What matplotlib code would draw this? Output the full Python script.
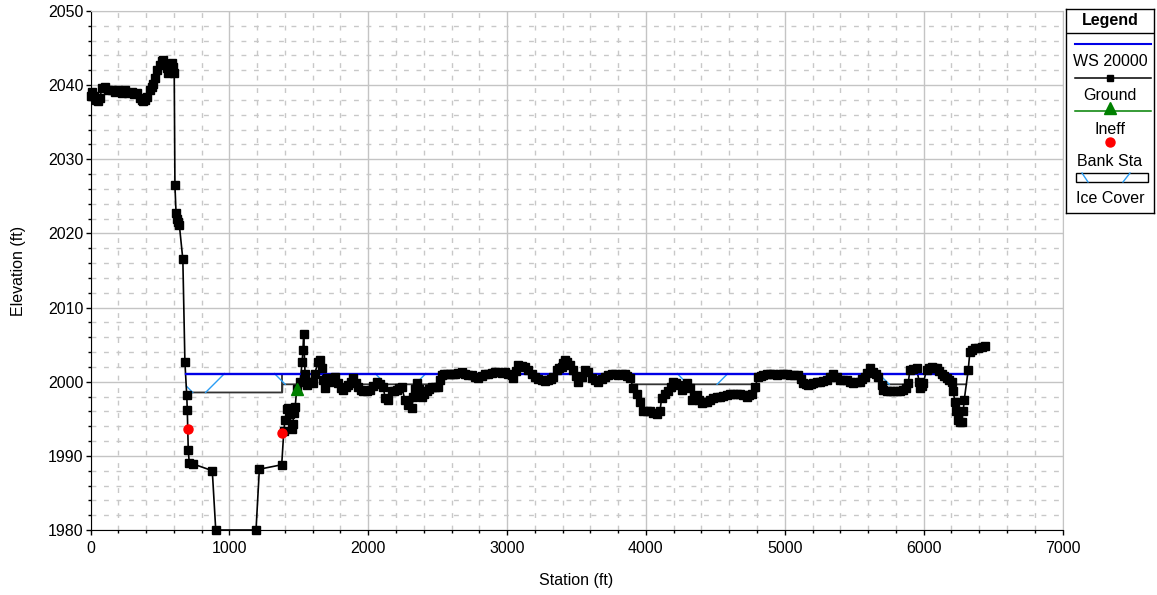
import numpy as np
import matplotlib
matplotlib.use("Agg")
import matplotlib.pyplot as plt
from matplotlib.ticker import MultipleLocator
from matplotlib.patches import Rectangle

plt.rcParams["font.family"] = ["Liberation Sans", "DejaVu Sans"]

# ground profile: station (ft) and elevation (ft)
ground_sta = [
    0, 9, 25, 40, 56, 68, 81, 104, 128, 153, 176, 200, 224, 248, 272, 297, 315, 333,
    356, 368, 380, 393, 405, 428, 440, 452, 465, 477, 500, 512, 524, 537, 549, 560,
    575, 589, 596, 603, 608, 616, 624, 632, 640, 665, 680, 693, 697, 704, 711, 740,
    877, 902, 1192, 1216, 1377, 1392, 1400, 1413, 1424, 1436, 1449, 1456, 1465, 1474,
    1485, 1509, 1524, 1530, 1535, 1545, 1557, 1570, 1581, 1600, 1615, 1640, 1653, 1665,
    1677, 1689, 1701, 1719, 1737, 1761, 1785, 1803, 1821, 1839, 1857, 1875, 1893, 1911,
    1929, 1947, 1965, 1989, 2013, 2037, 2061, 2085, 2109, 2121, 2145, 2169, 2187, 2205,
    2223, 2241, 2265, 2289, 2313, 2325, 2337, 2349, 2367, 2385, 2403, 2421, 2439, 2457,
    2481, 2505, 2517, 2529, 2547, 2565, 2589, 2613, 2625, 2649, 2673, 2697, 2721, 2745,
    2769, 2793, 2817, 2841, 2865, 2889, 2913, 2937, 2961, 2985, 3009, 3033, 3045, 3063,
    3081, 3105, 3129, 3153, 3177, 3201, 3225, 3249, 3273, 3297, 3315, 3333, 3357, 3375,
    3393, 3405, 3417, 3435, 3453, 3477, 3495, 3513, 3537, 3561, 3585, 3609, 3633, 3657,
    3681, 3705, 3729, 3753, 3777, 3801, 3825, 3849, 3867, 3885, 3909, 3933, 3957, 3981,
    4005, 4029, 4053, 4077, 4101, 4113, 4137, 4161, 4179, 4197, 4215, 4233, 4257, 4275,
    4293, 4317, 4329, 4347, 4365, 4383, 4401, 4419, 4437, 4461, 4485, 4509, 4533, 4557,
    4581, 4605, 4629, 4653, 4677, 4701, 4725, 4743, 4761, 4785, 4809, 4827, 4845, 4869,
    4893, 4917, 4941, 4965, 4989, 5013, 5037, 5067, 5097, 5115, 5133, 5151, 5169, 5187,
    5205, 5229, 5253, 5277, 5301, 5325, 5349, 5373, 5397, 5421, 5445, 5469, 5493, 5517,
    5541, 5559, 5577, 5595, 5613, 5637, 5655, 5673, 5697, 5709, 5733, 5757, 5781, 5805,
    5829, 5853, 5871, 5889, 5901, 5925, 5949, 5968, 5973, 5985, 5997, 6021, 6039, 6057,
    6075, 6093, 6111, 6129, 6147, 6165, 6183, 6201, 6213, 6225, 6233, 6249, 6261, 6273,
    6285, 6292, 6321, 6333, 6351, 6369, 6393, 6418, 6440,
]
ground_elev = [
    2038.6, 2039.1, 2038.5, 2038.0, 2037.8, 2038.2, 2039.6, 2039.8, 2039.4, 2039.3,
    2039.1, 2039.3, 2039.0, 2039.3, 2039.0, 2039.1, 2038.8, 2038.9, 2038.2, 2038.0,
    2037.8, 2038.0, 2038.4, 2039.3, 2039.8, 2040.2, 2041.0, 2042.0, 2042.7, 2043.2,
    2043.4, 2042.8, 2042.3, 2041.6, 2042.0, 2043.0, 2042.4, 2041.6, 2026.5, 2022.8,
    2022.0, 2021.6, 2021.1, 2016.5, 2002.6, 1998.2, 1996.2, 1990.8, 1989.1, 1988.9,
    1988.0, 1980.0, 1980.0, 1988.2, 1988.8, 1993.3, 1994.8, 1996.3, 1996.4, 1995.6,
    1993.6, 1994.3, 1995.8, 1996.6, 1999.0, 2000.0, 2002.6, 2004.3, 2006.4, 2001.1,
    1999.6, 1999.9, 2000.0, 1999.8, 2001.1, 2002.7, 2002.9, 2001.8, 2000.2, 1999.1,
    2000.5, 2000.0, 2000.2, 2000.7, 1999.8, 1999.2, 1998.9, 1999.3, 1999.6, 2000.0,
    2000.5, 1999.8, 1999.3, 1998.9, 1998.7, 1998.8, 1998.9, 1999.4, 2000.0, 1999.7,
    1999.3, 1997.8, 1997.5, 1998.7, 1998.8, 1998.9, 1999.1, 1999.3, 1997.5, 1996.9,
    1996.4, 1998.0, 1999.0, 1999.8, 1999.0, 1998.0, 1998.4, 1998.7, 1999.0, 1999.3,
    1999.3, 1999.3, 2000.2, 2000.9, 2001.0, 2001.1, 2001.0, 2001.1, 2001.1, 2001.2,
    2001.3, 2001.0, 2000.9, 2000.9, 2000.7, 2000.5, 2000.8, 2001.0, 2001.1, 2001.2,
    2001.3, 2001.3, 2001.2, 2001.3, 2001.1, 2000.9, 2000.5, 2001.5, 2002.3, 2002.1,
    2002.0, 2001.6, 2001.1, 2000.7, 2000.4, 2000.2, 2000.1, 2000.2, 2000.4, 2000.7,
    2001.6, 2001.8, 2002.0, 2002.5, 2002.9, 2002.6, 2002.3, 2001.6, 2000.8, 2000.0,
    2000.7, 2001.6, 2001.3, 2000.5, 2000.2, 2000.0, 2000.3, 2000.7, 2000.9, 2001.1,
    2001.0, 2000.9, 2001.0, 2001.1, 2000.8, 2000.5, 1999.1, 1998.4, 1997.3, 1996.1,
    1996.0, 1996.0, 1995.8, 1995.7, 1996.0, 1997.8, 1998.4, 1998.7, 1999.3, 2000.0,
    1999.8, 1999.6, 1998.9, 1999.4, 1999.8, 1999.1, 1997.5, 1997.9, 1998.2, 1997.6,
    1997.1, 1997.2, 1997.3, 1997.5, 1997.8, 1997.9, 1998.0, 1998.1, 1998.2, 1998.3,
    1998.4, 1998.4, 1998.4, 1998.2, 1998.0, 1998.2, 1998.4, 1999.3, 2000.7, 2000.8,
    2000.9, 2001.0, 2001.1, 2001.0, 2000.9, 2001.0, 2001.1, 2001.0, 2000.9, 2000.9,
    2000.9, 2000.3, 1999.8, 1999.7, 1999.6, 1999.7, 1999.8, 1999.9, 2000.0, 2000.1,
    2000.2, 2000.6, 2001.1, 2000.6, 2000.2, 2000.2, 2000.2, 2000.0, 1999.8, 1999.9,
    2000.0, 2000.3, 2000.7, 2001.2, 2001.8, 2001.3, 2001.0, 2000.7, 1999.6, 1998.9,
    1998.8, 1998.7, 1998.7, 1998.7, 1998.8, 1998.9, 1999.2, 1999.8, 2001.6, 2001.7,
    2001.8, 2000.0, 1999.1, 1999.4, 1999.8, 2001.6, 2001.8, 2002.0, 2001.9, 2001.8,
    2001.4, 2001.1, 2000.8, 2000.5, 2000.2, 2000.0, 1998.7, 1997.3, 1996.0, 1994.8,
    1994.5, 1994.6, 1996.0, 1997.5, 2001.6, 2004.0, 2004.3, 2004.5, 2004.6, 2004.7,
    2004.8,
]

ws_elev = 2001.1                 # WS 20000
bank_sta = [700, 1381]
bank_elev = [1993.6, 1993.1]
ineff_sta = [1485]
ineff_elev = [1999.0]
ice_bottom_chan = 1998.55        # ice underside in the main channel
ice_bottom_rob = 1999.65         # ice underside in the right overbank
ice_hatch_spacing = 725
ice_hatch_fwd0 = 965             # first '/' hatch top station
ice_hatch_back0 = 1325           # first '\' hatch top station

x_ticks = [0, 1000, 2000, 3000, 4000, 5000, 6000, 7000]
y_ticks = [1980, 1990, 2000, 2010, 2020, 2030, 2040, 2050]

W, H = 1157, 595
ax_l, ax_r, ax_t, ax_b = 90.5, 1062.5, 11, 530

ICE_BLUE = "#2a9df4"
WS_BLUE = "#0000e6"
ICE_EDGE = "#333333"

fig = plt.figure(figsize=(W / 100, H / 100), dpi=100)
fig.patch.set_facecolor("white")
ax = fig.add_axes([ax_l / W, 1 - ax_b / H, (ax_r - ax_l) / W, (ax_b - ax_t) / H])

ax.set_xlim(x_ticks[0], x_ticks[-1])
ax.set_ylim(y_ticks[0], y_ticks[-1])
ax.set_xticks(x_ticks)
ax.set_yticks(y_ticks)
ax.xaxis.set_minor_locator(MultipleLocator(200))
ax.yaxis.set_minor_locator(MultipleLocator(2))
ax.set_axisbelow(True)
ax.grid(which="major", color="#c4c4c4", lw=1.0, ls="-")
ax.grid(which="minor", color="#c8c8c8", lw=1.0, ls=(0, (3.5, 5.5)))
ax.tick_params(which="major", direction="out", length=3.6, width=1, labelsize=11.5)
ax.tick_params(which="minor", direction="out", length=2.4, width=1)
ax.tick_params(axis="y", which="major", pad=1.5)
ax.tick_params(axis="x", which="major", pad=4.2)
for side in ("top", "right"):
    ax.spines[side].set_color("#c4c4c4")
for side in ("left", "bottom"):
    ax.spines[side].set_color("black")
ax.set_xlabel("Station (ft)", fontsize=11.5, labelpad=12)
ax.set_ylabel("Elevation (ft)", fontsize=11.5, labelpad=16)

sta = np.asarray(ground_sta, dtype=float)
elev = np.asarray(ground_elev, dtype=float)

# water edges where the ground crosses the water surface
wet = elev < ws_elev
i0 = int(np.argmax(wet))
i1 = len(wet) - 1 - int(np.argmax(wet[::-1]))
x_left = np.interp(ws_elev, [elev[i0], elev[i0 - 1]], [sta[i0], sta[i0 - 1]])
x_right = np.interp(ws_elev, [elev[i1], elev[i1 + 1]], [sta[i1], sta[i1 + 1]])


def ice_bottom(x):
    return np.where(x < bank_sta[1], ice_bottom_chan, ice_bottom_rob)


def ice_lower(x):
    g = np.interp(x, sta, elev)
    low = np.maximum(g, ice_bottom(x))
    return np.where((x >= x_left) & (x <= x_right), low, np.inf)


# ice cover body
xs = np.linspace(x_left, x_right, 8000)
low = ice_lower(xs)
ax.fill_between(xs, np.minimum(low, ws_elev), ws_elev, where=low < ws_elev,
                color="white", lw=0, zorder=1)
g_fine = np.interp(xs, sta, elev)
ib = ice_bottom(xs)
ax.plot(xs, np.ma.masked_where(g_fine >= ib, ib), color=ICE_EDGE, lw=1.3, zorder=2)
ax.plot([bank_sta[1], bank_sta[1]], [ice_bottom_chan, ws_elev], color=ICE_EDGE, lw=1.3, zorder=2)

# sparse cross hatching inside the ice
fig.canvas.draw()
bb = ax.get_window_extent()
slope = ((y_ticks[-1] - y_ticks[0]) / bb.height) / ((x_ticks[-1] - x_ticks[0]) / bb.width)
depth = ws_elev - min(ice_bottom_chan, ice_bottom_rob)
run = depth / slope
for k in range(-2, 10):
    x0 = ice_hatch_back0 + k * ice_hatch_spacing
    hx = np.linspace(x0, x0 + run, 300)
    hy = ws_elev - slope * (hx - x0)
    ax.plot(hx, np.ma.masked_where(hy < ice_lower(hx), hy), color=ICE_BLUE, lw=1.0, zorder=2)
    x0 = ice_hatch_fwd0 + k * ice_hatch_spacing
    hx = np.linspace(x0 - run, x0, 300)
    hy = ws_elev - slope * (x0 - hx)
    ax.plot(hx, np.ma.masked_where(hy < ice_lower(hx), hy), color=ICE_BLUE, lw=1.0, zorder=2)

# ground, water surface, markers
ax.plot(sta, elev, color="black", lw=1.2, zorder=3, clip_on=False)
ax.plot([x_left, x_right], [ws_elev, ws_elev], color=WS_BLUE, lw=1.7, zorder=3.5)
ax.plot(sta, elev, ls="none", marker="s", ms=5.5, color="black", zorder=4, clip_on=False)
ax.plot(ineff_sta, ineff_elev, ls="none", marker="^", ms=8, color="#008000", zorder=5)
ax.plot(bank_sta, bank_elev, ls="none", marker="o", ms=6.5, color="#ff0000", zorder=5)

# legend panel
lg = fig.add_axes([1066 / W, 1 - 213 / H, 88 / W, 204 / H])
lg.set_xlim(1066, 1154)
lg.set_ylim(213, 9)
lg.set_xticks([])
lg.set_yticks([])
for sp in lg.spines.values():
    sp.set_color("black")
    sp.set_linewidth(1)
cx = 1110
fs = 11.5
lg.text(cx, 21, "Legend", ha="center", va="center", fontsize=fs, fontweight="bold")
lg.plot([1066, 1154], [32.7, 32.7], color="black", lw=1)
lg.plot([1075, 1151], [44, 44], color=WS_BLUE, lw=1.5)
lg.text(cx, 62, "WS 20000", ha="center", va="center", fontsize=fs)
lg.plot([1075, 1151], [78, 78], color="black", lw=1.1)
lg.plot([cx], [78], marker="s", ms=5, color="black")
lg.text(cx, 96, "Ground", ha="center", va="center", fontsize=fs)
lg.plot([1075, 1151], [111, 111], color="#008000", lw=1.1)
lg.plot([cx], [108], marker="^", ms=8, color="#008000")
lg.text(cx, 129, "Ineff", ha="center", va="center", fontsize=fs)
lg.plot([cx], [142], marker="o", ms=6.5, color="#ff0000")
lg.text(cx, 162, "Bank Sta", ha="center", va="center", fontsize=fs)
lg.add_patch(Rectangle((1076, 173), 72, 9, facecolor="white", edgecolor="black", lw=1))
lg.plot([1082, 1088], [173, 182], color=ICE_BLUE, lw=1)
lg.plot([1123, 1130], [182, 173], color=ICE_BLUE, lw=1)
lg.text(cx, 198, "Ice Cover", ha="center", va="center", fontsize=fs)

fig.savefig("out.png", dpi=100, facecolor="white")
plt.close(fig)
